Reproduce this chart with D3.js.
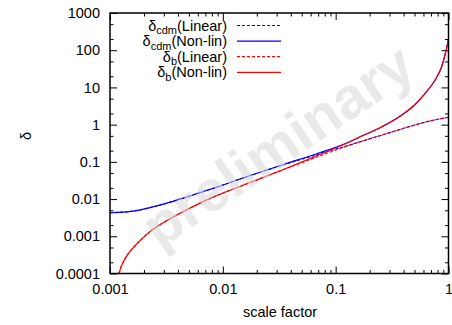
<!DOCTYPE html>
<html><head><meta charset="utf-8">
<script src="https://cdn.jsdelivr.net/npm/d3@7"></script>
<style>
html,body{margin:0;padding:0;background:#fff;}
svg{display:block;font-family:"Liberation Sans",Arial,Helvetica,sans-serif;}
</style></head>
<body>
<svg id="c" width="452" height="325"></svg>
<script>
// ---- data ----
const xTickValues = [0.001, 0.01, 0.1, 1];
const xTickLabels = ["0.001", "0.01", "0.1", "1"];
const yTickValues = [0.0001, 0.001, 0.01, 0.1, 1, 10, 100, 1000];
const yTickLabels = ["0.0001", "0.001", "0.01", "0.1", "1", "10", "100", "1000"];

const seriesNames = ["cdm(Linear)", "cdm(Non-lin)", "b(Linear)", "b(Non-lin)"];

const aCdmLinear = [0.001, 0.00161, 0.00226, 0.003194, 0.004463, 0.006284, 0.008849, 0.01748, 0.03445, 0.06804, 0.1349, 0.266, 0.521, 0.679, 1.0];
const cdmLinear  = [0.004285, 0.004755, 0.00591, 0.0078, 0.01064, 0.01496, 0.02103, 0.04285, 0.083, 0.156, 0.2864, 0.542, 1.007, 1.25, 1.57];

const aCdmNonlin = [0.001, 0.00161, 0.00226, 0.003194, 0.004463, 0.006284, 0.008849, 0.01748, 0.03445, 0.06804, 0.1349, 0.1631, 0.2451, 0.3685, 0.5003, 0.6133, 0.7517, 0.8673, 0.9408, 1.0];
const cdmNonlin  = [0.004285, 0.004755, 0.00591, 0.0078, 0.01064, 0.01496, 0.02103, 0.04285, 0.085, 0.165, 0.3515, 0.4645, 0.811, 1.651, 3.365, 6.65, 14.86, 35.3, 84.1, 200];

const aBLinear = [0.0012017, 0.001251, 0.00133, 0.001443, 0.00161, 0.001908, 0.00226, 0.003194, 0.004463, 0.006284, 0.008849, 0.01748, 0.03445, 0.06804, 0.1349, 0.266, 0.521, 0.679, 1.0];
const bLinear  = [0.0001, 0.0001486, 0.000222, 0.000332, 0.000497, 0.000841, 0.001337, 0.002643, 0.004613, 0.0078, 0.01242, 0.0278, 0.0621, 0.1346, 0.2864, 0.542, 1.007, 1.25, 1.57];

const aBNonlin = [0.0012017, 0.001251, 0.00133, 0.001443, 0.00161, 0.001908, 0.00226, 0.003194, 0.004463, 0.006284, 0.008849, 0.01748, 0.03445, 0.06804, 0.1349, 0.1631, 0.2451, 0.3685, 0.5003, 0.6133, 0.7517, 0.8673, 0.9408, 1.0];
const bNonlin  = [0.0001, 0.0001486, 0.000222, 0.000332, 0.000497, 0.000841, 0.001337, 0.002643, 0.004613, 0.0078, 0.01242, 0.0278, 0.0625, 0.145, 0.3515, 0.4645, 0.811, 1.651, 3.365, 6.65, 14.86, 35.3, 84.1, 200];

// ---- layout ----
const L = 110, R = 448.5, T = 13, B = 273.5;
const svg = d3.select("#c");
const x = d3.scaleLog().domain([0.001, 1]).range([L, R]);
const y = d3.scaleLog().domain([0.0001, 1000]).range([B, T]);

const xMinor = [];
[0.001, 0.01, 0.1].forEach(d => { for (let m = 2; m <= 9; m++) xMinor.push(+(d * m).toPrecision(3)); });
const yMinor = [];
[0.0001, 0.001, 0.01, 0.1, 1, 10, 100].forEach(d => { [2, 5].forEach(m => yMinor.push(+(d * m).toPrecision(3))); });

svg.append("clipPath").attr("id", "clip").append("rect")
  .attr("x", L).attr("y", T).attr("width", R - L).attr("height", B - T);

function styleAxis(g) {
  g.select(".domain").remove();
  g.selectAll(".tick line").attr("stroke", "#000").attr("stroke-width", 1);
  g.selectAll(".tick text").attr("fill", "#000").attr("font-size", 14.5)
   .attr("font-family", '"Liberation Sans",Arial,sans-serif');
}
// bottom
svg.append("g").attr("transform", `translate(0,${B})`)
  .call(d3.axisBottom(x).tickValues(xTickValues).tickSize(-7).tickPadding(10).tickFormat((d, i) => xTickLabels[i]))
  .call(styleAxis);
svg.append("g").attr("transform", `translate(0,${B})`)
  .call(d3.axisBottom(x).tickValues(xMinor).tickSize(-3.5).tickFormat(""))
  .call(styleAxis);
// top
svg.append("g").attr("transform", `translate(0,${T})`)
  .call(d3.axisTop(x).tickValues(xTickValues).tickSize(-7).tickFormat(""))
  .call(styleAxis);
svg.append("g").attr("transform", `translate(0,${T})`)
  .call(d3.axisTop(x).tickValues(xMinor).tickSize(-3.5).tickFormat(""))
  .call(styleAxis);
// left
svg.append("g").attr("transform", `translate(${L},0)`)
  .call(d3.axisLeft(y).tickValues(yTickValues).tickSize(-7).tickPadding(10).tickFormat((d, i) => yTickLabels[i]))
  .call(styleAxis);
svg.append("g").attr("transform", `translate(${L},0)`)
  .call(d3.axisLeft(y).tickValues(yMinor).tickSize(-3.5).tickFormat(""))
  .call(styleAxis);
// right
svg.append("g").attr("transform", `translate(${R},0)`)
  .call(d3.axisRight(y).tickValues(yTickValues).tickSize(-7).tickFormat(""))
  .call(styleAxis);
svg.append("g").attr("transform", `translate(${R},0)`)
  .call(d3.axisRight(y).tickValues(yMinor).tickSize(-3.5).tickFormat(""))
  .call(styleAxis);

// curves
const line = d3.line().x(d => x(d[0])).y(d => y(d[1])).curve(d3.curveMonotoneX);
const series = [
  {a: aCdmLinear, v: cdmLinear, color: "#0000ff", dash: "3,2"},
  {a: aCdmNonlin, v: cdmNonlin, color: "#0000ff", dash: null},
  {a: aBLinear, v: bLinear, color: "#ff0000", dash: "3,2"},
  {a: aBNonlin, v: bNonlin, color: "#ff0000", dash: null}
];
const plot = svg.append("g").attr("clip-path", "url(#clip)");
series.forEach(s => {
  plot.append("path").datum(s.a.map((a, i) => [a, s.v[i]]))
    .attr("d", line).attr("fill", "none").attr("stroke", s.color)
    .attr("stroke-width", 1.2).attr("stroke-dasharray", s.dash);
});

// legend
const legX = 227, legY0 = 25.5, legDy = 15.6;
series.forEach((s, i) => {
  const yy = legY0 + i * legDy;
  const parts = seriesNames[i].split("(");
  const t = svg.append("text").attr("x", legX).attr("y", yy + 5).attr("text-anchor", "end")
    .attr("font-size", 14.5).attr("fill", "#000");
  t.append("tspan").text("δ");
  t.append("tspan").attr("font-size", 11).attr("dy", 3.5).text(parts[0]);
  t.append("tspan").attr("dy", -3.5).text("(" + parts[1]);
  svg.append("line").attr("x1", 237).attr("x2", 281).attr("y1", yy).attr("y2", yy)
    .attr("stroke", s.color).attr("stroke-width", 1.2).attr("stroke-dasharray", s.dash);
});

// frame
svg.append("rect").attr("x", L).attr("y", T).attr("width", R - L).attr("height", B - T)
  .attr("fill", "none").attr("stroke", "#000").attr("stroke-width", 1.5);

// axis titles
svg.append("text").attr("x", 280).attr("y", 317).attr("text-anchor", "middle")
  .attr("font-size", 14.5).text("scale factor");
svg.append("text").attr("transform", "translate(31,136) rotate(-90)").attr("text-anchor", "middle")
  .attr("font-size", 14.5).text("δ");

// watermark
svg.append("text").attr("transform", "translate(289,162) rotate(-34)").attr("text-anchor", "middle")
  .attr("font-size", 58).attr("font-weight", "bold").attr("fill", "#dcdcdc").attr("opacity", 0.6)
  .text("preliminary");
</script>
</body></html>
